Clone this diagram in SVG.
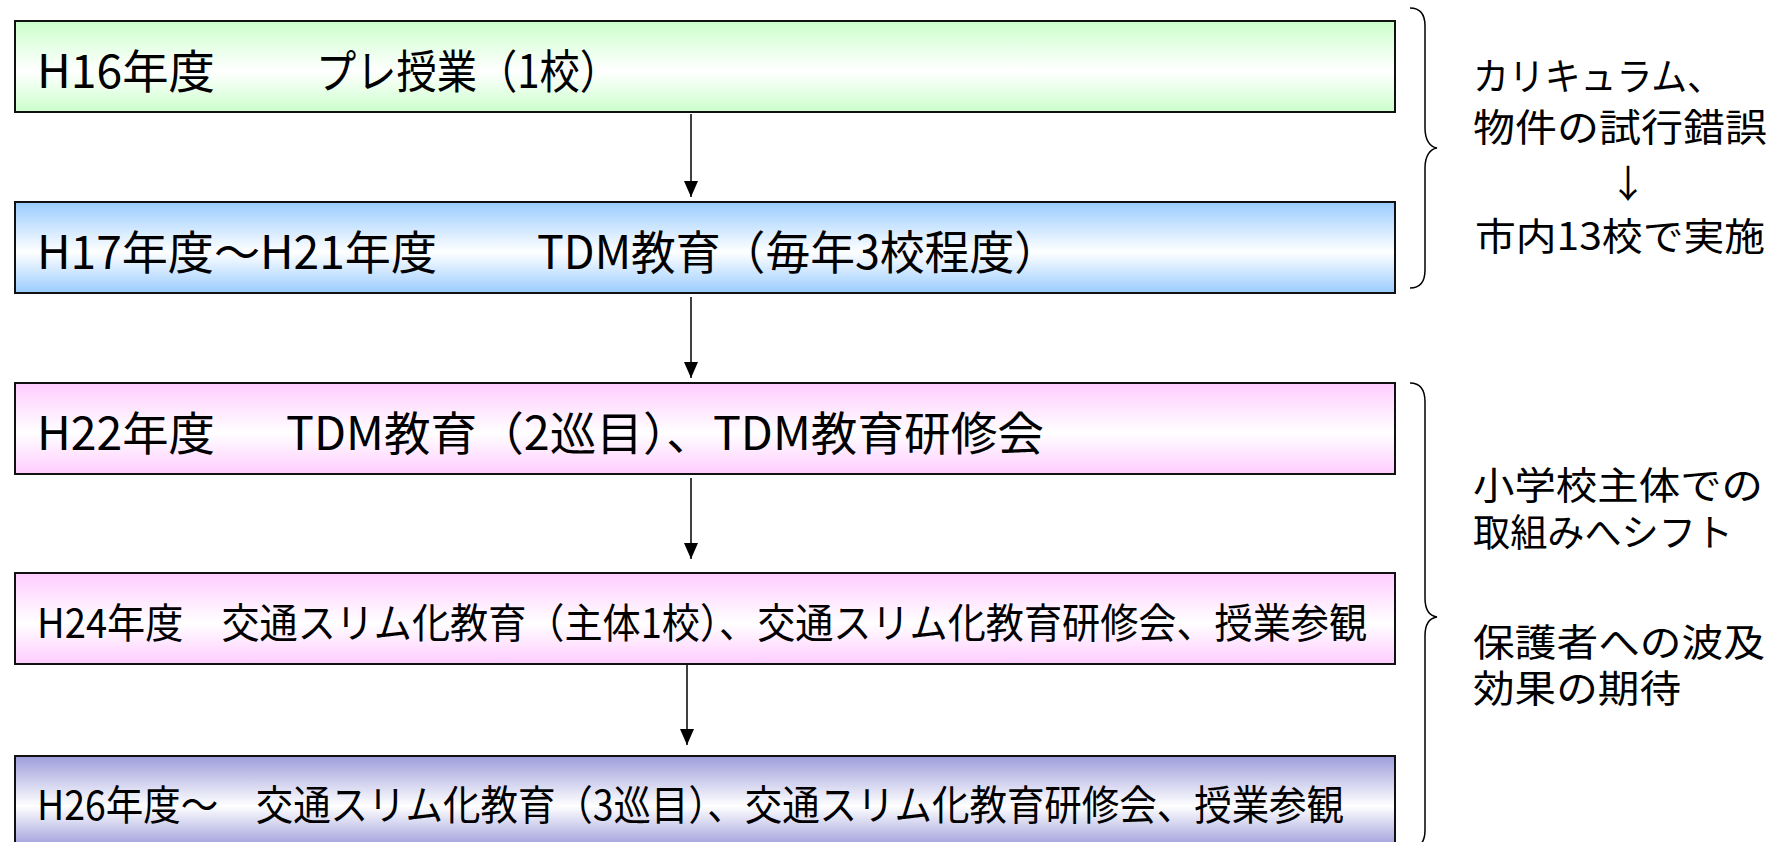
<svg xmlns="http://www.w3.org/2000/svg" width="1783" height="842" viewBox="0 0 1783 842">
  <defs>
    <linearGradient id="gGreen" x1="0" y1="0" x2="0" y2="1">
      <stop offset="0" stop-color="#ccffcc"/>
      <stop offset="0.55" stop-color="#ffffff"/>
      <stop offset="1" stop-color="#ccffcc"/>
    </linearGradient>
    <linearGradient id="gBlue" x1="0" y1="0" x2="0" y2="1">
      <stop offset="0" stop-color="#99ccff"/>
      <stop offset="0.55" stop-color="#ffffff"/>
      <stop offset="1" stop-color="#99ccff"/>
    </linearGradient>
    <linearGradient id="gPink" x1="0" y1="0" x2="0" y2="1">
      <stop offset="0" stop-color="#ffccff"/>
      <stop offset="0.55" stop-color="#ffffff"/>
      <stop offset="1" stop-color="#ffccff"/>
    </linearGradient>
    <linearGradient id="gPurple" x1="0" y1="0" x2="0" y2="1">
      <stop offset="0" stop-color="#9d9ddc"/>
      <stop offset="0.55" stop-color="#ffffff"/>
      <stop offset="1" stop-color="#9d9ddc"/>
    </linearGradient>
    <marker id="arrow" markerUnits="userSpaceOnUse" markerWidth="16" markerHeight="16" refX="16" refY="7" orient="auto">
      <path d="M0,0 L16,7 L0,14 Z" fill="#000"/>
    </marker>
  </defs>
  <style>
    .box { stroke: #111; stroke-width: 2; }
    .t { font-family: "Noto Sans CJK JP", "Noto Sans", sans-serif; fill: #000; }
    .big { font-size: 46px; }
    .mid { font-size: 41px; }
    .side { font-size: 38px; }
    .conn { stroke: #000; stroke-width: 1.5; fill: none; }
    .brace { stroke: #000; stroke-width: 1.5; fill: none; }
  </style>

  <rect width="1783" height="842" fill="#ffffff"/>

  <g id="node-h16">
    <rect class="box" x="15" y="21" width="1380" height="91" fill="url(#gGreen)"/>
    <text class="t big" x="37" y="88" textLength="178" lengthAdjust="spacingAndGlyphs">H16年度</text>
    <text class="t big" x="316" y="88" textLength="304" lengthAdjust="spacingAndGlyphs">プレ授業（1校）</text>
  </g>

  <g id="node-h17">
    <rect class="box" x="15" y="202" width="1380" height="91" fill="url(#gBlue)"/>
    <text class="t big" x="37" y="269" textLength="400" lengthAdjust="spacingAndGlyphs">H17年度～H21年度</text>
    <text class="t big" x="537" y="269" textLength="522" lengthAdjust="spacingAndGlyphs">TDM教育（毎年3校程度）</text>
  </g>

  <g id="node-h22">
    <rect class="box" x="15" y="383" width="1380" height="91" fill="url(#gPink)"/>
    <text class="t big" x="37" y="450" textLength="178" lengthAdjust="spacingAndGlyphs">H22年度</text>
    <text class="t big" x="286" y="450" textLength="758" lengthAdjust="spacingAndGlyphs">TDM教育（2巡目）、TDM教育研修会</text>
  </g>

  <g id="node-h24">
    <rect class="box" x="15" y="573" width="1380" height="91" fill="url(#gPink)"/>
    <text class="t mid" x="37" y="638" textLength="1330" lengthAdjust="spacingAndGlyphs">H24年度　交通スリム化教育（主体1校）、交通スリム化教育研修会、授業参観</text>
  </g>

  <g id="node-h26">
    <rect class="box" x="15" y="756" width="1380" height="91" fill="url(#gPurple)"/>
    <text class="t mid" x="37" y="820" textLength="1307" lengthAdjust="spacingAndGlyphs">H26年度～　交通スリム化教育（3巡目）、交通スリム化教育研修会、授業参観</text>
  </g>

  <g id="connectors">
    <line class="conn" x1="691" y1="114" x2="691" y2="197" marker-end="url(#arrow)"/>
    <line class="conn" x1="691" y1="297" x2="691" y2="378" marker-end="url(#arrow)"/>
    <line class="conn" x1="691" y1="478" x2="691" y2="559" marker-end="url(#arrow)"/>
    <line class="conn" x1="687" y1="665" x2="687" y2="745" marker-end="url(#arrow)"/>
  </g>

  <g id="brace-top">
    <path class="brace" d="M1410,8 C1420,8 1425,14 1425,26 L1425,128 C1425,140 1430,147 1437,148 C1430,149 1425,156 1425,168 L1425,270 C1425,282 1420,288 1410,288"/>
    <text class="t side" x="1473" y="90" textLength="250" lengthAdjust="spacingAndGlyphs">カリキュラム、</text>
    <text class="t side" x="1473" y="141" textLength="294" lengthAdjust="spacingAndGlyphs">物件の試行錯誤</text>
    <text class="t side" x="1628" y="197" text-anchor="middle">↓</text>
    <text class="t side" x="1475" y="250" textLength="290" lengthAdjust="spacingAndGlyphs">市内13校で実施</text>
  </g>

  <g id="brace-bottom">
    <path class="brace" d="M1410,383 C1420,383 1425,390 1425,402 L1425,598 C1425,610 1430,616 1437,617 C1430,618 1425,624 1425,636 L1425,830 C1425,842 1420,848 1410,848"/>
    <text class="t side" x="1473" y="499" textLength="290" lengthAdjust="spacingAndGlyphs">小学校主体での</text>
    <text class="t side" x="1473" y="546" textLength="260" lengthAdjust="spacingAndGlyphs">取組みへシフト</text>
    <text class="t side" x="1473" y="656" textLength="292" lengthAdjust="spacingAndGlyphs">保護者への波及</text>
    <text class="t side" x="1473" y="702" textLength="208" lengthAdjust="spacingAndGlyphs">効果の期待</text>
  </g>
</svg>
